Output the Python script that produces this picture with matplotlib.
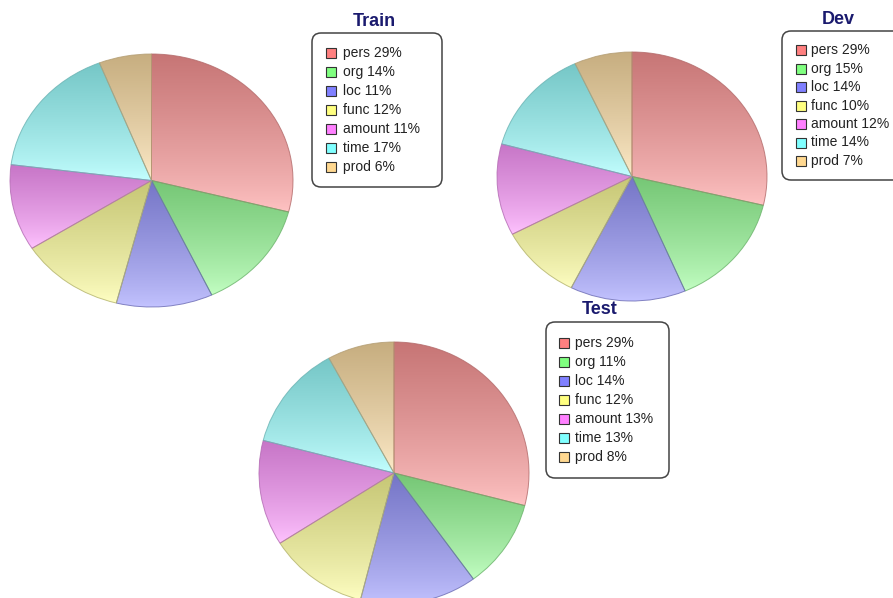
import numpy as np
import matplotlib
matplotlib.use("Agg")
import matplotlib.pyplot as plt
from matplotlib.colors import to_rgb
from matplotlib.patches import FancyBboxPatch, Rectangle

plt.rcParams["font.family"] = ["Liberation Sans", "DejaVu Sans"]

# figure size in pixels
W, H = 893, 598

# data
labels = ["pers", "org", "loc", "func", "amount", "time", "prod"]
train = [29, 14, 11, 12, 11, 17, 6]
dev = [29, 15, 14, 10, 12, 14, 7]
test = [29, 11, 14, 12, 13, 13, 8]

colors = ["#ff8080", "#80ff80", "#8080ff", "#ffff80",
          "#ff80ff", "#80ffff", "#ffd890"]

fig = plt.figure(figsize=(W / 100, H / 100), dpi=100)

# overlay axes in pixel units (origin top-left) for titles and legends
lay = fig.add_axes([0, 0, 1, 1])
lay.set_xlim(0, W)
lay.set_ylim(H, 0)
lay.axis("off")


def draw_pie(rect, values):
    """ Pie with a vertical dark -> light gradient in every slice. """
    x, y, w, h = rect
    ax = fig.add_axes([x / W, 1 - (y + h) / H, w / W, h / H])
    wedges, _ = ax.pie(values, colors=colors, startangle=90,
                       counterclock=False, radius=1)

    t = np.linspace(0, 1, 96)[:, None] ** 0.8
    for wedge, c in zip(wedges, colors):
        base = np.array(to_rgb(c))
        top = 0.64 * base + 0.14
        bottom = 0.47 * base + 0.53
        grad = (bottom * (1 - t) + top * t)[:, None, :]

        bb = wedge.get_path().get_extents()
        im = ax.imshow(grad, extent=[bb.x0, bb.x1, bb.y0, bb.y1],
                       origin="lower", aspect="auto",
                       interpolation="bilinear", zorder=1)
        im.set_clip_path(wedge)

        wedge.set_facecolor("none")
        wedge.set_edgecolor(tuple(top * 0.9) + (0.8,))
        wedge.set_linewidth(0.7)
        wedge.set_zorder(2)
        wedge.set_clip_on(False)

    ax.set_xlim(-1, 1)
    ax.set_ylim(-1, 1)
    ax.set_aspect("auto")
    ax.axis("off")
    return ax


def draw_legend(title, values, title_xy, box, sw_x, txt_x, row0, step):
    """ Rounded legend box with a bold title above it. """
    x0, y0, x1, y1 = box
    lay.add_patch(FancyBboxPatch((x0, y0), x1 - x0, y1 - y0,
                                 boxstyle="round,pad=0,rounding_size=9",
                                 fc="white", ec="#444444", lw=1.1))
    lay.text(title_xy[0], title_xy[1], title, ha="center", va="center",
             fontsize=13, fontweight="bold", color="#1a1a6e")

    for i, (lab, v, c) in enumerate(zip(labels, values, colors)):
        ry = row0 + i * step
        lay.add_patch(Rectangle((sw_x, ry - 5), 10, 10, fc=c,
                                ec="#333333", lw=0.8))
        lay.text(txt_x, ry, f"{lab} {v}%", ha="left", va="center",
                 fontsize=10, color="#222222")


# pies (x, y, w, h in pixels)
draw_pie((10, 54, 283, 253), train)
draw_pie((497, 52, 270, 249), dev)
draw_pie((259, 342, 270, 262), test)

# legends
draw_legend("Train", train, (374, 21), (312, 33, 442, 187), 326, 343, 53, 19)
draw_legend("Dev", dev, (838, 19), (782, 31, 905, 180), 796, 811, 50, 18.5)
draw_legend("Test", test, (600, 310), (546, 322, 669, 478), 559, 575, 343, 19)

fig.savefig("out.png", dpi=100)
